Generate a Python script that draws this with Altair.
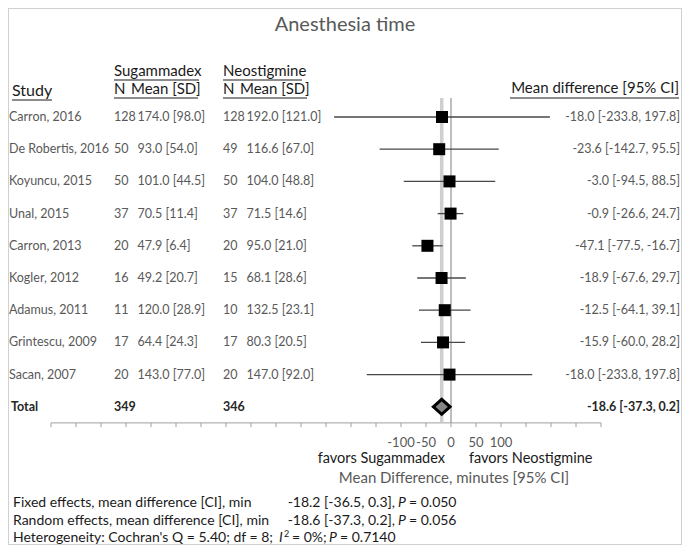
import altair as alt
import pandas as pd

# ---------------- data ----------------
studies = ["Carron, 2016", "De Robertis, 2016", "Koyuncu, 2015", "Unal, 2015",
           "Carron, 2013", "Kogler, 2012", "Adamus, 2011", "Grintescu, 2009", "Sacan, 2007"]
sug_n = [128, 50, 50, 37, 20, 16, 11, 17, 20]
sug_mean = [174.0, 93.0, 101.0, 70.5, 47.9, 49.2, 120.0, 64.4, 143.0]
sug_sd = [98.0, 54.0, 44.5, 11.4, 6.4, 20.7, 28.9, 24.3, 77.0]
neo_n = [128, 49, 50, 37, 20, 15, 10, 17, 20]
neo_mean = [192.0, 116.6, 104.0, 71.5, 95.0, 68.1, 132.5, 80.3, 147.0]
neo_sd = [121.0, 67.0, 48.8, 14.6, 21.0, 28.6, 23.1, 20.5, 92.0]
ci_labels = ["-18.0 [-233.8, 197.8]", "-23.6 [-142.7, 95.5]", "-3.0 [-94.5, 88.5]",
             "-0.9 [-26.6, 24.7]", "-47.1 [-77.5, -16.7]", "-18.9 [-67.6, 29.7]",
             "-12.5 [-64.1, 39.1]", "-15.9 [-60.0, 28.2]", "-18.0 [-233.8, 197.8]"]
# plotted positions (as drawn)
md = [-18.0, -23.6, -3.0, -0.9, -47.1, -18.9, -12.5, -15.9, -3.0]
ci_lo = [-233.8, -142.7, -94.5, -26.6, -77.5, -67.6, -64.1, -60.0, -168.5]
ci_hi = [197.8, 95.5, 88.5, 24.7, -16.7, 29.7, 39.1, 28.2, 162.5]

total_n = [349, 346]
overall = -18.6
overall_lo = -37.3
overall_hi = 0.2
overall_label = "-18.6 [-37.3, 0.2]"

axis_ticks = [-800, -750, -700, -650, -600, -550, -500, -450, -400, -350, -300, -250,
              -200, -150, -100, -50, 0, 50, 100, 150, 200, 250, 300]
tick_label_values = [-100, -50, 0, 50, 100]
tick_label_text = ["-100", "-50", "0", "50", "100"]

# ---------------- layout ----------------
W, H = 674, 537
O = 8  # page margin
FONT = "Lato"
GRAY = "#595959"
DARK = "#1a1a1a"
RS = 12.5  # row font size

xs = alt.Scale(domain=[-886, 462], nice=False, zero=False)
ys = alt.Scale(domain=[-3.3851, 13.2919], nice=False, zero=False, reverse=True)

rows = pd.DataFrame({
    "row": list(range(len(studies))),
    "study": studies,
    "sn": [str(v) for v in sug_n],
    "smsd": [f"{m:.1f} [{s:.1f}]" for m, s in zip(sug_mean, sug_sd)],
    "nn": [str(v) for v in neo_n],
    "nmsd": [f"{m:.1f} [{s:.1f}]" for m, s in zip(neo_mean, neo_sd)],
    "ci": ci_labels,
    "md": md, "lo": ci_lo, "hi": ci_hi,
})
TOTAL_ROW = len(studies)
tot = pd.DataFrame({"row": [TOTAL_ROW], "label": ["Total"], "sn": [str(total_n[0])],
                    "nn": [str(total_n[1])], "ci": [overall_label], "md": [overall],
                    "lo": [overall_lo], "hi": [overall_hi]})

X = lambda f: alt.X(f, scale=xs, axis=None)
Y = lambda f: alt.Y(f, scale=ys, axis=None)


def label(text, x, y, size=13, color=DARK, align="left", weight="normal", style="normal"):
    return alt.Chart(alt.Data(values=[{"t": text}])).mark_text(
        x=x - O, y=y - O, align=align, baseline="middle", fontSize=size, color=color,
        fontWeight=weight, fontStyle=style, font=FONT).encode(text="t:N")


def uline(x1, x2, y, color=DARK):
    return alt.Chart(alt.Data(values=[{}])).mark_rule(color=color, strokeWidth=1).encode(
        x=alt.value(x1 - O), x2=alt.value(x2 - O), y=alt.value(y - O))


def coltext(df, field, x, align="left", color=GRAY, weight="normal", size=RS):
    return alt.Chart(df).mark_text(align=align, baseline="middle", fontSize=size, color=color,
                                   fontWeight=weight, font=FONT).encode(
        x=alt.value(x - O), y=Y("row:Q"), text=f"{field}:N")


layers = []

# reference lines
layers.append(alt.Chart(pd.DataFrame({"x": [overall], "y": [-0.59], "y2": [9.47]})).mark_rule(
    color="#cfcfcf", strokeWidth=3.5).encode(x=X("x:Q"), y=Y("y:Q"), y2="y2:Q"))
layers.append(alt.Chart(pd.DataFrame({"x": [0], "y": [-0.59], "y2": [9.5]})).mark_rule(
    color="#a9a9a9", strokeWidth=1.5).encode(x=X("x:Q"), y=Y("y:Q"), y2="y2:Q"))

# axis line and ticks
layers.append(alt.Chart(pd.DataFrame({"x": [axis_ticks[0]], "x2": [axis_ticks[-1]], "y": [9.5]})).mark_rule(
    color="#a0a0a0", strokeWidth=1).encode(x=X("x:Q"), x2="x2:Q", y=Y("y:Q")))
layers.append(alt.Chart(pd.DataFrame({"x": axis_ticks, "y": [9.5] * len(axis_ticks),
                                      "y2": [9.63] * len(axis_ticks)})).mark_rule(
    color="#a0a0a0", strokeWidth=1).encode(x=X("x:Q"), y=Y("y:Q"), y2="y2:Q"))
layers.append(alt.Chart(pd.DataFrame({"v": tick_label_values, "t": tick_label_text})).mark_text(
    baseline="middle", align="center", fontSize=13, color=GRAY, font=FONT).encode(
    x=X("v:Q"), y=alt.value(443 - O), text="t:N"))

# CI lines and squares
layers.append(alt.Chart(rows).mark_rule(color="#474747", strokeWidth=1.3).encode(
    x=X("lo:Q"), x2="hi:Q", y=Y("row:Q")))
layers.append(alt.Chart(rows).mark_point(shape="square", filled=True, color="black", size=144,
                                         opacity=1).encode(x=X("md:Q"), y=Y("row:Q")))
# summary diamond
layers.append(alt.Chart(tot).mark_point(
    shape="M -1 0 L 0 -0.9 L 1 0 L 0 0.9 Z", filled=True, color="#858585", stroke="black",
    strokeWidth=3, strokeOpacity=1, opacity=1, size=280).encode(x=X("md:Q"), y=Y("row:Q")))

# row texts
NX1, MX1, NX2, MX2 = 114, 137.5, 223, 246.5
layers.append(coltext(rows, "study", 9))
layers.append(coltext(rows, "sn", NX1))
layers.append(coltext(rows, "smsd", MX1))
layers.append(coltext(rows, "nn", NX2))
layers.append(coltext(rows, "nmsd", MX2))
layers.append(coltext(rows, "ci", 680, align="right"))
layers.append(coltext(tot, "label", 11, color="#262626", weight="bold"))
layers.append(coltext(tot, "sn", NX1, color="#262626", weight="bold"))
layers.append(coltext(tot, "nn", NX2, color="#262626", weight="bold"))
layers.append(coltext(tot, "ci", 680, align="right", color="#262626", weight="bold"))

# title and headers
layers.append(label("Anesthesia time", 345, 25, size=20, color=GRAY, align="center"))
layers.append(label("Study", 12, 91, size=16))
layers.append(uline(12, 52, 100))
layers.append(label("Sugammadex", NX1, 71, size=15))
layers.append(uline(NX1, 199, 80))
layers.append(label("N", NX1, 89, size=15))
layers.append(label("Mean [SD]", 131, 89, size=15))
layers.append(uline(NX1, 198, 98))
layers.append(label("Neostigmine", NX2, 71, size=15))
layers.append(uline(NX2, 302, 80))
layers.append(label("N", NX2, 89, size=15))
layers.append(label("Mean [SD]", 240, 89, size=15))
layers.append(uline(NX2, 307, 98))
layers.append(label("Mean difference [95% CI]", 679, 88, size=15, align="right"))
layers.append(uline(510, 679, 98))

# axis titles
layers.append(label("favors Sugammadex", 445, 459, size=14.5, align="right"))
layers.append(label("favors Neostigmine", 469, 459, size=14.5))
layers.append(label("Mean Difference, minutes [95% CI]", 454, 478, size=15, color=GRAY, align="center"))

# footer
FS = 14
layers.append(label("Fixed effects, mean difference [CI], min", 13, 503, size=FS))
layers.append(label("-18.2 [-36.5, 0.3],", 395, 503, size=FS, align="right"))
layers.append(label("P", 398, 503, size=FS, style="italic"))
layers.append(label("= 0.050", 409, 503, size=FS))
layers.append(label("Random effects, mean difference [CI], min", 13, 521, size=FS))
layers.append(label("-18.6 [-37.3, 0.2],", 395, 521, size=FS, align="right"))
layers.append(label("P", 398, 521, size=FS, style="italic"))
layers.append(label("= 0.056", 409, 521, size=FS))
layers.append(label("Heterogeneity: Cochran's Q = 5.40; df = 8;", 13, 538, size=FS))
layers.append(label("I", 279, 538, size=FS, style="italic"))
layers.append(label("2", 284, 534, size=9))
layers.append(label("= 0%;", 292, 538, size=FS))
layers.append(label("P", 329, 538, size=FS, style="italic"))
layers.append(label("= 0.7140", 340, 538, size=FS))

chart = alt.layer(*layers).properties(
    width=W, height=H, autosize=alt.AutoSizeParams(type="none"), padding=0,
    background="white",
).configure_view(stroke="#d0d0d0", strokeWidth=2)

chart.save("out.html", embed_options={"renderer": "svg", "actions": False})
